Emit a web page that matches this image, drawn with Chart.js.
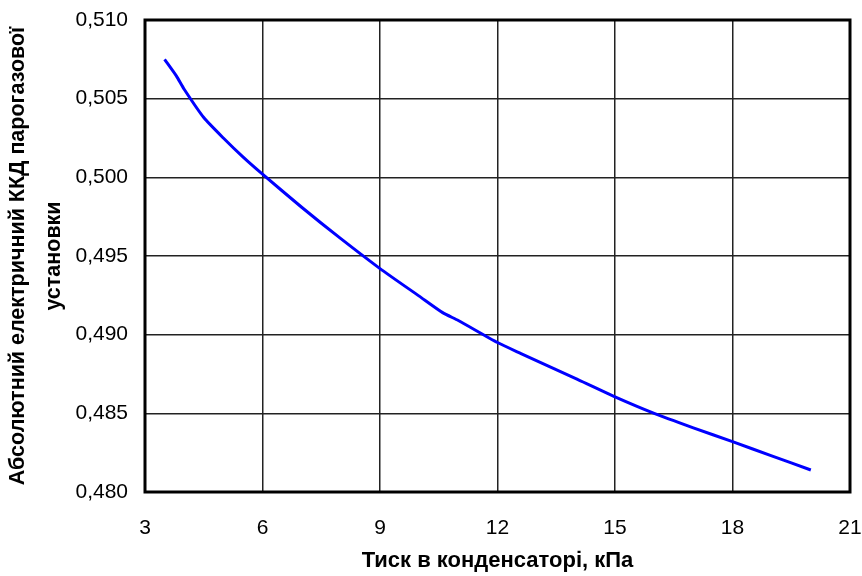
<!DOCTYPE html>
<html>
<head>
<meta charset="utf-8">
<script src="https://cdn.jsdelivr.net/npm/chart.js@4/dist/chart.umd.min.js"></script>
<style>
html,body{margin:0;padding:0;background:#fff;}
#wrap{width:862px;height:576px;}
</style>
</head>
<body>
<div id="wrap"><canvas id="c" width="862" height="576"></canvas></div>
<script>
const pressure = [3.5, 3.8, 4.0, 4.5, 5.0, 5.5, 6.0, 7.0, 8.0, 9.0, 10.0, 10.6, 11.0, 12.0, 12.6, 14.0, 15.0, 16.0, 17.0, 18.0, 19.0, 20.0];
const efficiency = [0.5075, 0.50645, 0.5056, 0.5038, 0.5025, 0.5013, 0.5002, 0.4981, 0.4961, 0.4942, 0.49245, 0.4914, 0.4909, 0.4895, 0.4888, 0.4872, 0.48605, 0.4850, 0.48408, 0.4832, 0.4823, 0.4814];
const xTicks = [3, 6, 9, 12, 15, 18, 21];
const yTicks = [0.480, 0.485, 0.490, 0.495, 0.500, 0.505, 0.510];
const xTitle = "Тиск в конденсаторі, кПа";
const yTitle = ["Абсолютний електричний ККД парогазової", "установки"];

const points = pressure.map((x, i) => ({x: x, y: efficiency[i]}));

const borderBox = {
  id: 'borderBox',
  afterDraw(chart) {
    const {ctx, chartArea: a} = chart;
    ctx.save();
    ctx.strokeStyle = '#000';
    ctx.lineWidth = 3;
    ctx.strokeRect(a.left, a.top, a.right - a.left, a.bottom - a.top);
    ctx.restore();
  }
};

new Chart(document.getElementById('c'), {
  type: 'line',
  data: {
    datasets: [{
      data: points,
      borderColor: '#0000FF',
      borderWidth: 3,
      pointRadius: 0,
      tension: 0.2,
      fill: false
    }]
  },
  options: {
    responsive: false,
    animation: false,
    events: [],
    layout: {padding: {left: 0, right: 12, top: 20, bottom: 0}},
    plugins: {legend: {display: false}, tooltip: {enabled: false}},
    scales: {
      x: {
        type: 'linear',
        min: xTicks[0], max: xTicks[xTicks.length - 1],
        afterBuildTicks(s) { s.ticks = xTicks.map(v => ({value: v})); },
        afterFit(s) { s.height = 84; s.paddingLeft = 0; s.paddingRight = 0; },
        ticks: {padding: 24, color: '#000', font: {family: 'Liberation Sans, Arial', size: 21}, maxRotation: 0},
        grid: {color: '#222', lineWidth: 1.5, drawTicks: false},
        border: {display: false},
        title: {display: true, text: xTitle, color: '#000', padding: {top: 0, bottom: 2}, font: {family: 'Liberation Sans, Arial', size: 22, weight: 'bold'}}
      },
      y: {
        min: yTicks[0], max: yTicks[yTicks.length - 1],
        afterBuildTicks(s) { s.ticks = yTicks.map(v => ({value: v})); },
        afterFit(s) { s.width = 145; s.paddingTop = 0; s.paddingBottom = 0; },
        ticks: {padding: 17, color: '#000', font: {family: 'Liberation Sans, Arial', size: 21},
          callback: v => v.toFixed(3).replace('.', ',')},
        grid: {color: '#222', lineWidth: 1.5, drawTicks: false},
        border: {display: false},
        title: {display: true, text: yTitle, color: '#000', padding: {top: 0, bottom: 0}, font: {family: 'Liberation Sans, Arial', size: 21.5, weight: 'bold', lineHeight: 1.68}}
      }
    }
  },
  plugins: [borderBox]
});
</script>
</body>
</html>
